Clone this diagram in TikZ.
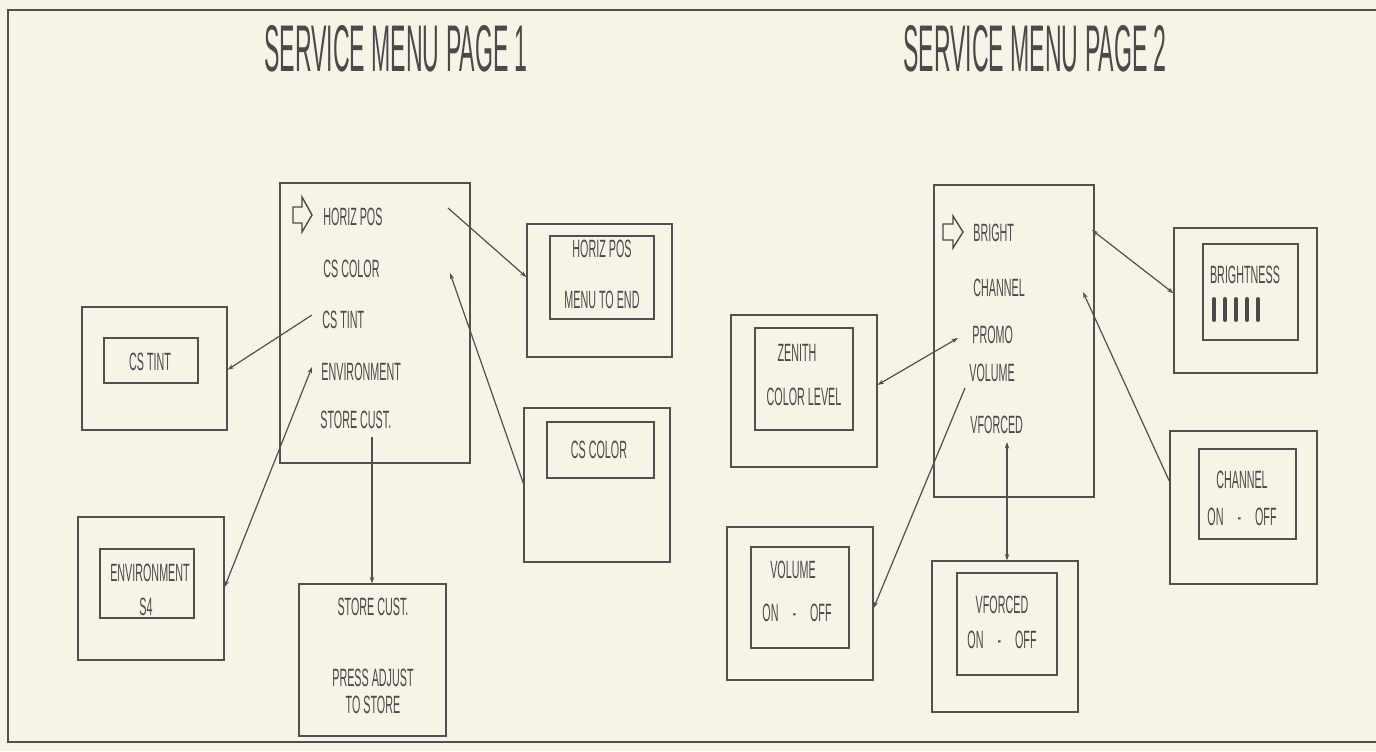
\documentclass[tikz,border=0pt]{standalone}
\usepackage{fontspec}
\setmainfont{Liberation Sans}
\newfontfamily\plotfont[FakeStretch=0.43]{Liberation Sans}
\newfontfamily\ttlfont[FakeStretch=0.35]{Liberation Sans}
\usetikzlibrary{fit,calc,arrows.meta}
\definecolor{paper}{HTML}{F7F3E6}
\definecolor{ink}{HTML}{505050}
\definecolor{txt}{HTML}{4A4A4A}
\begin{document}
\begin{tikzpicture}[x=0.5pt,y=-0.5pt,
  box/.style={draw=ink, line width=0.6pt, inner sep=0pt},
  lbl/.style={text=txt, font=\plotfont\fontsize{12.5}{14}\selectfont, inner sep=0pt},
  ttl/.style={text=txt, font=\ttlfont\fontsize{33}{36}\selectfont, inner sep=0pt},
  conn/.style={draw=ink, line width=0.6pt},
  arrE/.style={-{Stealth[length=3.2pt,width=2.2pt]}},
  arrS/.style={{Stealth[length=3.2pt,width=2.2pt]}-},
  arrB/.style={{Stealth[length=3.2pt,width=2.2pt]}-{Stealth[length=3.2pt,width=2.2pt]}},
  icon/.style={draw=txt, line width=0.7pt, line join=miter},
  bar/.style={draw=txt, line width=2pt, line cap=round}]
\useasboundingbox (0,0) rectangle (1376,751);
\fill[paper] (0,0) rectangle (1376,751);
% outer frame
\draw[draw=ink, line width=1.1pt] (1376,10) -- (8,10) -- (8,742) -- (1376,742);
% titles
\node[ttl] (title1) at (396,49) {SERVICE MENU PAGE 1};
\node[ttl] (title2) at (1035,49) {SERVICE MENU PAGE 2};

% ===== PAGE 1 =====
\node[box, fit={(280,183)(470,463)}] (m1) {};
\draw[icon] (293,207) -- (302,207) -- (302,197) -- (312,215) -- (302,232) -- (302,223) -- (293,223) -- cycle;
\node[lbl, anchor=west] (t-hpos) at (323,217) {HORIZ POS};
\node[lbl, anchor=west] (t-cscolor) at (323,269) {CS COLOR};
\node[lbl, anchor=west] (t-cstint) at (322,320) {CS TINT};
\node[lbl, anchor=west] (t-env) at (321,372) {ENVIRONMENT};
\node[lbl, anchor=west] (t-store) at (320,420) {STORE CUST.};

% HORIZ POS box
\node[box, fit={(527,224)(672,357)}] (b-hpos) {};
\node[box, fit={(550,236)(654,319)}] (i-hpos) {};
\node[lbl] (l-hpos1) at (602,249) {HORIZ POS};
\node[lbl] (l-hpos2) at (602,300) {MENU TO END};

% CS COLOR box
\node[box, fit={(524,408)(670,562)}] (b-cscolor) {};
\node[box, fit={(547,422)(654,478)}] (i-cscolor) {};
\node[lbl] (l-cscolor) at (599,450) {CS COLOR};

% CS TINT box
\node[box, fit={(82,307)(227,430)}] (b-cstint) {};
\node[box, fit={(104,338)(198,383)}] (i-cstint) {};
\node[lbl] (l-cstint) at (150,362) {CS TINT};

% ENVIRONMENT box
\node[box, fit={(78,517)(224,660)}] (b-env) {};
\node[box, fit={(100,549)(194,618)}] (i-env) {};
\node[lbl] (l-env1) at (150,573) {ENVIRONMENT};
\node[lbl] (l-env2) at (146,607) {S4};

% STORE CUST box
\node[box, fit={(299,584)(446,736)}] (b-store) {};
\node[lbl] (l-store1) at (373,607) {STORE CUST.};
\node[lbl] (l-store2) at (373,678) {PRESS ADJUST};
\node[lbl] (l-store3) at (373,705) {TO STORE};

% connectors page 1
\coordinate (e-hpos) at (448,208);
\coordinate (e-cscolor) at (450,273);
\coordinate (e-cstint) at (312,315);
\coordinate (e-env) at (312,367);
\coordinate (e-store) at (372,437);
\draw[conn,arrE] (e-hpos) -- ($(b-hpos.north west)!0.40!(b-hpos.south west)$);
\draw[conn,arrS] (e-cscolor) -- ($(b-cscolor.north west)!0.49!(b-cscolor.south west)$);
\draw[conn,arrE] (e-cstint) -- ($(b-cstint.north east)!0.51!(b-cstint.south east)$);
\draw[conn,arrB] (e-env) -- ($(b-env.north east)!0.49!(b-env.south east)$);
\draw[conn,arrE] (e-store) -- (b-store.north -| e-store);

% ===== PAGE 2 =====
\node[box, fit={(934,185)(1094,497)}] (m2) {};
\draw[icon] (943,224) -- (953,224) -- (953,216) -- (963,232) -- (953,248) -- (953,240) -- (943,240) -- cycle;
\node[lbl, anchor=west] (t-bright) at (973,233) {BRIGHT};
\node[lbl, anchor=west] (t-channel) at (973,288) {CHANNEL};
\node[lbl, anchor=west] (t-promo) at (972,335) {PROMO};
\node[lbl, anchor=west] (t-volume) at (969,373) {VOLUME};
\node[lbl, anchor=west] (t-vforced) at (970,425) {VFORCED};

% ZENITH box
\node[box, fit={(731,315)(877,467)}] (b-zen) {};
\node[box, fit={(755,328)(853,430)}] (i-zen) {};
\node[lbl] (l-zen1) at (797,353) {ZENITH};
\node[lbl] (l-zen2) at (804,397) {COLOR LEVEL};

% VOLUME box
\node[box, fit={(727,527)(873,680)}] (b-vol) {};
\node[box, fit={(751,547)(849,648)}] (i-vol) {};
\node[lbl] (l-vol1) at (793,570) {VOLUME};
\node[lbl] (l-vol2) at (797,613) {ON\hspace{7pt}-\hspace{7pt}OFF};

% VFORCED box
\node[box, fit={(932,561)(1078,712)}] (b-vf) {};
\node[box, fit={(957,573)(1057,675)}] (i-vf) {};
\node[lbl] (l-vf1) at (1002,605) {VFORCED};
\node[lbl] (l-vf2) at (1002,640) {ON\hspace{7pt}-\hspace{7pt}OFF};

% BRIGHTNESS box
\node[box, fit={(1174,228)(1317,373)}] (b-br) {};
\node[box, fit={(1203,244)(1298,340)}] (i-br) {};
\node[lbl] (l-br) at (1245,275) {BRIGHTNESS};
\foreach \bx in {1214,1225,1236,1247,1258}
  \draw[bar] (\bx,299) -- (\bx,320);

% CHANNEL box
\node[box, fit={(1170,431)(1317,584)}] (b-ch) {};
\node[box, fit={(1199,449)(1296,539)}] (i-ch) {};
\node[lbl] (l-ch1) at (1242,480) {CHANNEL};
\node[lbl] (l-ch2) at (1242,517) {ON\hspace{7pt}-\hspace{7pt}OFF};

% connectors page 2
\coordinate (e-promo) at (958,338);
\coordinate (e-volume) at (965,388);
\coordinate (e-vforced) at (1007,442);
\coordinate (e-bright) at (1092,230);
\coordinate (e-channel) at (1083,292);
\draw[conn,arrB] (e-promo) -- ($(b-zen.north east)!0.46!(b-zen.south east)$);
\draw[conn,arrE] (e-volume) -- ($(b-vol.north east)!0.53!(b-vol.south east)$);
\draw[conn,arrB] (e-vforced) -- (b-vf.north -| e-vforced);
\draw[conn,arrB] (e-bright) -- ($(b-br.north west)!0.45!(b-br.south west)$);
\draw[conn,arrS] (e-channel) -- ($(b-ch.north west)!0.33!(b-ch.south west)$);
\end{tikzpicture}
\end{document}
